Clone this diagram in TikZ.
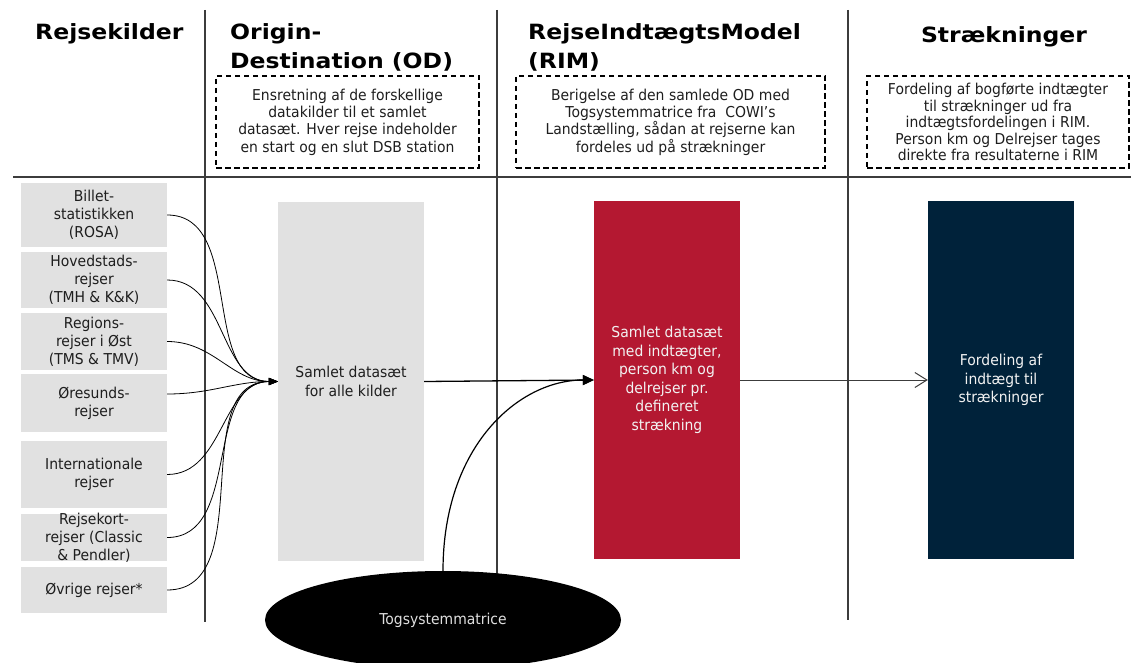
\documentclass[tikz,border=0pt]{standalone}
\usepackage{fontspec}
\setmainfont{DejaVu Sans}[FakeStretch=0.93]
\newfontfamily\titlefont[FakeStretch=1.12]{DejaVu Sans}
\usetikzlibrary{arrows.meta,shapes.geometric}
\definecolor{boxgray}{HTML}{E1E1E1}
\definecolor{rimred}{HTML}{B41831}
\definecolor{navy}{HTML}{00223A}
\definecolor{linegray}{HTML}{3C3C3C}
\definecolor{txt}{HTML}{1E1E1E}
\definecolor{lighttxt}{HTML}{F2F2F2}
\begin{document}
\begin{tikzpicture}[x=1pt,y=-1pt,
  srcbox/.style={fill=boxgray, minimum width=146pt, inner xsep=0pt, inner ysep=0pt, align=center, text=txt, font=\fontsize{15}{18}\selectfont},
  bigbox/.style={minimum width=146pt, minimum height=358pt, inner sep=0pt, align=center, font=\fontsize{15}{18.5}\selectfont},
  descbox/.style={draw=black, line width=1.3pt, dash pattern=on 5.5pt off 3.5pt, inner sep=0pt, align=center, text=txt, font=\fontsize{15}{17.4}\selectfont},
  titletext/.style={font=\titlefont\bfseries\fontsize{21}{29}\selectfont, anchor=base west, inner sep=0pt, text=black},
  sepline/.style={draw=linegray, line width=1.2pt},
  feed/.style={draw=black, line width=0.8pt, -{Triangle[length=9pt,width=7pt]}},
  mainarrow/.style={draw=black, line width=1.3pt, -{Triangle[length=11pt,width=10pt]}},
]
\useasboundingbox (0,0) rectangle (1131,663);

% separators
\draw[sepline] (205,10) -- (205,622);
\draw[sepline] (497,10) -- (497,600);
\draw[sepline] (848,10) -- (848,620);
\draw[sepline] (13,177) -- (1131,177);

% titles
\node[titletext] (t1) at (35,40) {Rejsekilder};
\node[titletext] (t2a) at (230,40) {Origin-};
\node[titletext] (t2b) at (230,69) {Destination (OD)};
\node[titletext] (t3a) at (528,40) {RejseIndtægtsModel};
\node[titletext] (t3b) at (528,69) {(RIM)};
\node[titletext, anchor=base] (t4) at (1004,43) {Strækninger};

% description boxes
\node[descbox, minimum width=263pt, minimum height=92pt] (d1) at (347.5,122)
  {Ensretning af de forskellige\\datakilder til et samlet\\datasæt. Hver rejse indeholder\\en start og en slut DSB station};
\node[descbox, minimum width=309pt, minimum height=92pt] (d2) at (670.5,122)
  {Berigelse af den samlede OD med\\Togsystemmatrice fra\ \ COWI’s\\Landstælling, sådan at rejserne kan\\fordeles ud på strækninger};
\node[descbox, minimum width=262pt, minimum height=92pt, font=\fontsize{15}{16.5}\selectfont] (d3) at (998,122)
  {Fordeling af bogførte indtægter\\til strækninger ud fra\\indtægtsfordelingen i RIM.\\Person km og Delrejser tages\\direkte fra resultaterne i RIM};

% source boxes
\node[srcbox, minimum height=64pt] (s1) at (94,215) {Billet-\\statistikken\\(ROSA)};
\node[srcbox, minimum height=56pt] (s2) at (94,280) {Hovedstads-\\rejser\\(TMH \& K\&K)};
\node[srcbox, minimum height=57pt] (s3) at (94,341.5) {Regions-\\rejser i Øst\\(TMS \& TMV)};
\node[srcbox, minimum height=58pt] (s4) at (94,403) {Øresunds-\\rejser};
\node[srcbox, minimum height=67pt] (s5) at (94,474.5) {Internationale\\rejser};
\node[srcbox, minimum height=47pt, inner ysep=-3pt] (s6) at (94,537.5) {Rejsekort-\\rejser (Classic\\\& Pendler)};
\node[srcbox, minimum height=46pt] (s7) at (94,590) {Øvrige rejser*};

% main boxes
\node[bigbox, fill=boxgray, text=txt, minimum height=359pt] (g) at (351,381.5) {Samlet datasæt\\for alle kilder};
\node[bigbox, fill=rimred, text=lighttxt] (r) at (667,380) {Samlet datasæt\\med indtægter,\\person km og\\delrejser pr.\\defineret\\strækning};
\node[bigbox, fill=navy, text=lighttxt] (n) at (1001,380) {Fordeling af\\indtægt til\\strækninger};

% ellipse
\node[ellipse, fill=black, minimum width=356pt, minimum height=98pt, inner sep=0pt, text=white!87!black, font=\fontsize{15}{17}\selectfont] (e) at (443,620) {Togsystemmatrice};

% feeds
\foreach \s in {s1,s2,s3,s5,s6,s7}
  \draw[feed] (\s.east) to[out=0,in=180] (g.west);
\draw[feed] ([yshift=9pt]s4.east) to[out=0,in=180] (g.west);

% main flow
\draw[mainarrow] (g.east) -- (r.west);
\draw[mainarrow, line width=1.2pt] (e.north) to[out=90,in=180,out distance=125pt,in distance=75pt] (r.west);
\draw[draw=linegray, line width=1pt, -{Straight Barb[length=12pt,width=15pt]}] (r.east) -- (n.west);
\end{tikzpicture}
\end{document}
